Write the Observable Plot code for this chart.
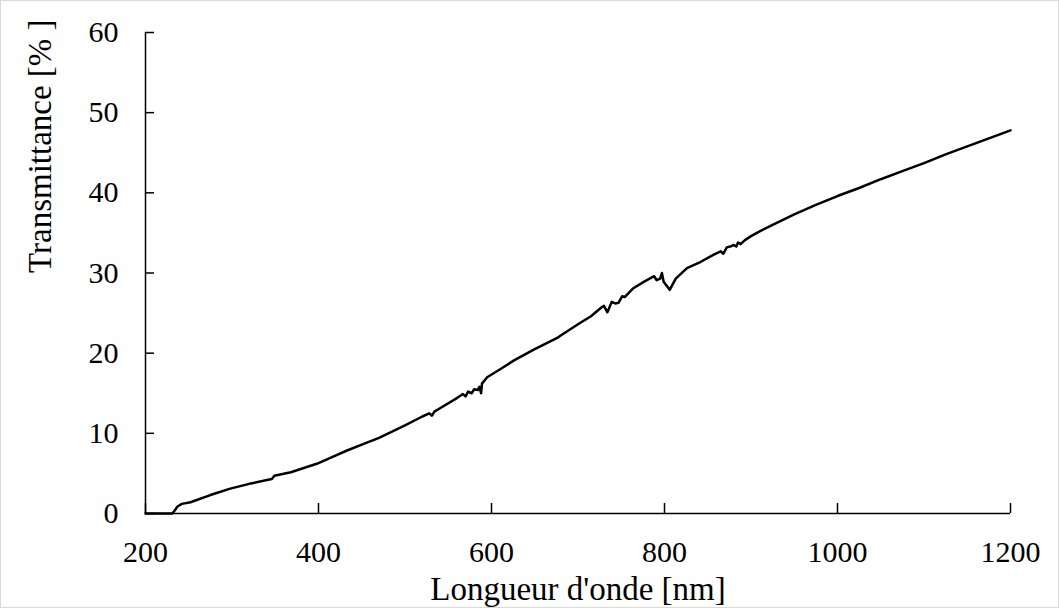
<!DOCTYPE html>
<html>
<head>
<meta charset="utf-8">
<script src="https://cdn.jsdelivr.net/npm/d3@7"></script>
<script src="https://cdn.jsdelivr.net/npm/@observablehq/plot@0.6"></script>
<style>
  body { margin: 0; background: #fff; }
  #chart svg { display: block; outline: 1px solid #d9d9d9; outline-offset: -1px; }
</style>
</head>
<body>
<div id="chart"></div>
<script>
const wavelength = [200, 231, 234, 237, 242, 252, 275, 298, 320, 346, 349, 368, 398, 415, 433, 450, 470, 485, 500, 520, 528, 531, 534, 540, 560, 567, 570, 573, 577, 580, 584, 586, 588, 589, 595, 610, 626, 650, 676, 680, 700, 715, 727, 730, 734, 739, 743, 747, 751, 754, 764, 776, 788, 791, 795, 797, 799, 806, 813, 826, 842, 857, 865, 868, 872, 876, 880, 883, 885, 888, 893, 900, 910, 925, 950, 975, 1000, 1025, 1050, 1075, 1100, 1125, 1150, 1175, 1200];
const transmittance = [0, 0, 0.4, 0.87, 1.2, 1.4, 2.3, 3.1, 3.7, 4.3, 4.7, 5.15, 6.2, 7.0, 7.86, 8.6, 9.44, 10.2, 11.0, 12.1, 12.5, 12.2, 12.7, 13.1, 14.4, 14.9, 14.6, 15.2, 15.0, 15.5, 15.4, 15.8, 15.0, 16.2, 17.0, 18.0, 19.1, 20.5, 21.9, 22.2, 23.6, 24.6, 25.7, 25.9, 25.1, 26.4, 26.2, 26.3, 27.1, 27.0, 28.1, 28.9, 29.6, 29.1, 29.3, 30.0, 28.9, 27.9, 29.3, 30.6, 31.4, 32.3, 32.7, 32.4, 33.2, 33.3, 33.5, 33.3, 33.8, 33.6, 34.1, 34.6, 35.2, 36.0, 37.3, 38.5, 39.6, 40.6, 41.7, 42.7, 43.7, 44.8, 45.8, 46.8, 47.8];
const xTicks = [200, 400, 600, 800, 1000, 1200];
const yTicks = [0, 10, 20, 30, 40, 50, 60];
const xTitle = "Longueur d'onde [nm]";
const yTitle = "Transmittance [% ]";

const data = wavelength.map((w, i) => ({w, t: transmittance[i]}));

const W = 1059, H = 608;
const mL = 145, mR = 49, mT = 32, mB = 95;
const plotW = W - mL - mR, plotH = H - mT - mB;

const chart = Plot.plot({
  width: W,
  height: H,
  marginLeft: mL,
  marginRight: mR,
  marginTop: mT,
  marginBottom: mB,
  style: {fontFamily: "'Liberation Serif', 'Times New Roman', serif", fontSize: "30px", color: "#000", background: "#fff"},
  x: {domain: [200, 1200]},
  y: {domain: [0, 60]},
  marks: [
    Plot.axisX(xTicks, {tickSize: 0, tickPadding: 27, label: null, fontSize: 30, tickFormat: d => String(d)}),
    Plot.axisY(yTicks, {tickSize: 0, tickPadding: 27, label: null, fontSize: 30, tickFormat: d => String(d)}),
    Plot.tickX(xTicks, {x: d => d, insetTop: plotH - 10, stroke: "#000", strokeWidth: 1.5}),
    Plot.tickY(yTicks, {y: d => d, insetRight: plotW - 9, stroke: "#000", strokeWidth: 1.5}),
    Plot.ruleY([0], {stroke: "#000", strokeWidth: 1.5}),
    Plot.ruleX([200], {stroke: "#000", strokeWidth: 1.5}),
    Plot.line(data, {x: "w", y: "t", stroke: "#000", strokeWidth: 2.5, strokeLinejoin: "round"}),
    Plot.text([xTitle], {frameAnchor: "bottom", dy: 76, text: d => d, fontSize: 33, lineAnchor: "middle", fill: "#000"}),
    Plot.text([yTitle], {frameAnchor: "left", dx: -105, rotate: -90, text: d => d, fontSize: 33, lineAnchor: "middle", fill: "#000"})
  ]
});
document.getElementById("chart").appendChild(chart);
</script>
</body>
</html>
